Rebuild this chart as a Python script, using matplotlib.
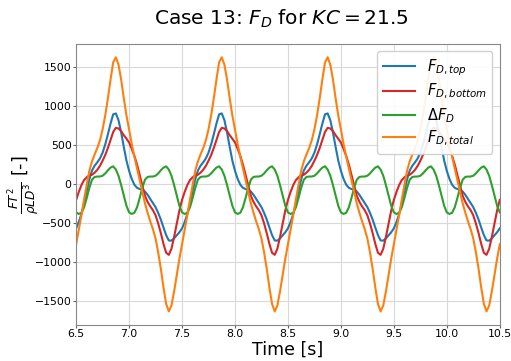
import numpy as np
import matplotlib
matplotlib.use("Agg")
import matplotlib.pyplot as plt

# One wave period (T = 1 s) sampled every 0.025 s, starting at t = 6.5 s
dt = 0.025
n_periods = 4
t_start = 6.5

# Top section drag force
f_top = [-570, -488, -385, -250, -95, 60, 172, 235, 278, 328,
         402, 508, 638, 775, 893, 905, 818, 662, 475, 300,
         168, 65, -10, -50, -65, -75, -98, -140, -192, -243,
         -298, -372, -458, -560, -657, -725, -728, -698, -660, -620]

# Bottom section drag force
f_bottom = [-205, -102, -15, 50, 85, 110, 118, 145, 182, 232,
            298, 372, 462, 565, 667, 720, 712, 678, 625, 580,
            532, 450, 360, 250, 115, -25, -152, -230, -288, -337,
            -402, -508, -632, -770, -883, -910, -832, -682, -510, -340]

# Difference top - bottom
delta_f = [-365, -385, -370, -300, -180, -50, 55, 90, 95, 95,
           105, 135, 175, 210, 226, 185, 105, -15, -150, -280,
           -365, -385, -370, -300, -180, -50, 55, 90, 95, 95,
           105, 135, 175, 210, 226, 185, 105, -15, -150, -280]

# Total drag force
f_total = [-775, -590, -400, -200, -10, 170, 290, 380, 460, 560,
           700, 880, 1100, 1340, 1560, 1625, 1530, 1340, 1100, 880,
           700, 515, 350, 200, 50, -100, -250, -370, -480, -580,
           -700, -880, -1090, -1330, -1540, -1635, -1560, -1380, -1170, -960]

x_ticks = [6.5, 7.0, 7.5, 8.0, 8.5, 9.0, 9.5, 10.0, 10.5]
y_ticks = [-1500, -1000, -500, 0, 500, 1000, 1500]


def periodic(series):
    arr = np.tile(np.asarray(series, dtype=float), n_periods)
    return np.append(arr, series[0])


n = len(f_top) * n_periods + 1
t = t_start + dt * np.arange(n)

fig = plt.figure(figsize=(5.11, 3.61), dpi=100)
ax = fig.add_axes([0.149, 0.0997, 0.829, 0.7783])

lw = 1.5
ax.plot(t, periodic(f_top), color="tab:blue", lw=lw, label=r"$F_{D,top}$")
ax.plot(t, periodic(f_bottom), color="tab:red", lw=lw, label=r"$F_{D,bottom}$")
ax.plot(t, periodic(delta_f), color="tab:green", lw=lw, label=r"$\Delta F_D$")
ax.plot(t, periodic(f_total), color="tab:orange", lw=lw, label=r"$F_{D,total}$")

ax.set_xlim(6.5, 10.5)
ax.set_ylim(-1810, 1795)
ax.set_xticks(x_ticks)
ax.set_yticks(y_ticks)
ax.tick_params(labelsize=7.8, length=2.0, pad=1.2, color="#666666")
ax.grid(True, color="#d9d9d9", lw=0.8)
ax.set_axisbelow(True)
for s in ax.spines.values():
    s.set_color("#888888")

ax.set_xlabel("Time [s]", fontsize=12.5, labelpad=1)
ax.set_ylabel(r"$\frac{FT^2}{\rho LD^3}$ [-]", fontsize=12.5)
ax.yaxis.set_label_coords(-0.08, 0.5)
ax.set_title(r"Case 13: $F_D$ for $KC = 21.5$", fontsize=14.5, pad=14,
             x=0.485)

ax.legend(loc="upper right", fontsize=10.5, handlelength=2.2,
          labelspacing=0.3, borderaxespad=0.5, framealpha=0.9)

fig.savefig("out.png", dpi=100)
